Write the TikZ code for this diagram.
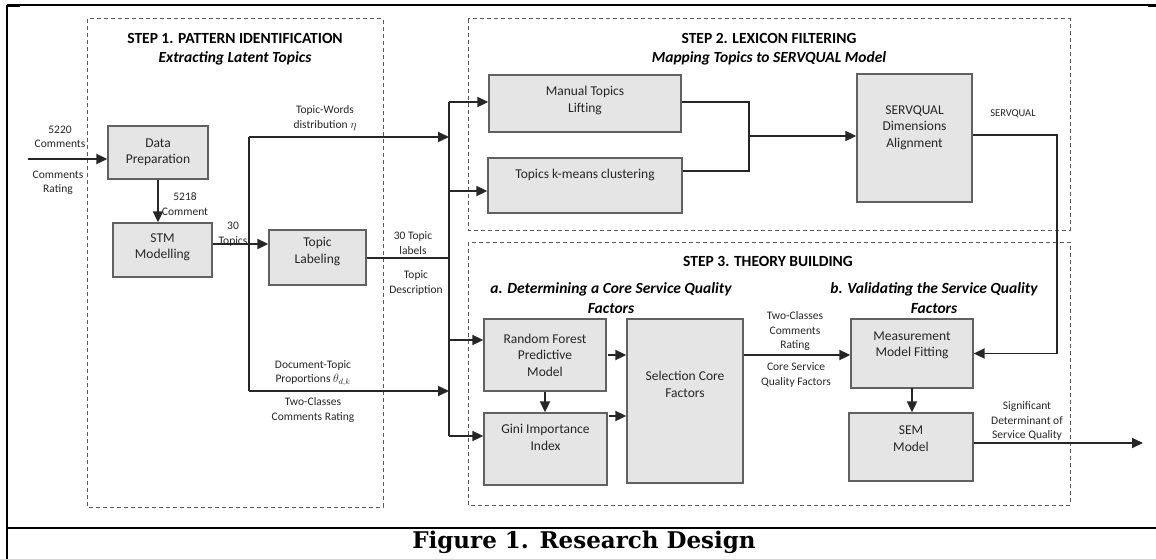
\documentclass[tikz,border=0pt]{standalone}
\usepackage{fontspec}
\usepackage{xcolor}
\setmainfont{Carlito}
\newfontfamily\capfont{DejaVu Serif}
\usetikzlibrary{arrows.meta}

\tikzset{
  procbox/.style={draw=black!62, line width=1.3pt, fill=black!10, align=center,
    text=black!85, font=\fontsize{13.5}{16.5}\selectfont, inner sep=2pt},
  steparea/.style={draw=black!65, line width=1pt, dash pattern=on 4pt off 3pt},
  flow/.style={line width=1.8pt, draw=black!85},
  tip/.style={-{Triangle[length=11pt,width=10pt]}},
  note/.style={align=center, text=black!85, font=\fontsize{11.5}{14.5}\selectfont, inner sep=0pt},
  steptitle/.style={align=center, font=\fontsize{15.5}{19}\selectfont\bfseries, inner sep=0pt},
  subtitle/.style={align=center, font=\fontsize{15.5}{20}\selectfont\bfseries\itshape, inner sep=0pt}
}

\begin{document}
\begin{tikzpicture}[x=1pt, y=-1pt]
    \useasboundingbox (0,0) rectangle (1156,559);

    % Frame of the figure cell
    \draw[line width=2pt] (7,5) -- (7,559);
    \draw[line width=1.2pt] (7,5) -- (1156,5);
    \draw[line width=1.2pt] (7,528) -- (1156,528);
    \draw[line width=2.5pt] (7,5.5) -- (20,5.5);
    \draw[line width=2.5pt] (1148,6) -- (1156,6);
    \draw[line width=2.5pt] (7,528) -- (20,528);
    \draw[line width=2.5pt] (1148,528) -- (1156,528);

    % Dashed step areas
    \draw[steparea] (87,19) rectangle (383,507);
    \draw[steparea] (468,19) rectangle (1070,230);
    \draw[steparea] (468,242) rectangle (1070,505);

    % Titles
    \node[steptitle] (t1) at (235,38) {STEP 1. PATTERN IDENTIFICATION};
    \node[subtitle] (s1) at (235,58) {Extracting Latent Topics};
    \node[steptitle] (t2) at (769,38) {STEP 2. LEXICON FILTERING};
    \node[subtitle] (s2) at (769,58) {Mapping Topics to SERVQUAL Model};
    \node[steptitle] (t3) at (768,261) {STEP 3. THEORY BUILDING};
    \node[subtitle] (s3a) at (611,298) {a. Determining a Core Service Quality\\Factors};
    \node[subtitle] (s3b) at (934,298) {b. Validating the Service Quality\\Factors};

    % Step 1 boxes
    \node[procbox, minimum width=100pt, minimum height=53pt] (prep) at (158,152.5) {Data\\Preparation};
    \node[procbox, minimum width=99pt, minimum height=54pt, text depth=8pt] (stm) at (162.5,250) {STM\\Modelling};
    \node[procbox, minimum width=97pt, minimum height=55pt, text depth=14pt] (tlab) at (317.5,257.5) {Topic\\Labeling};

    % Step 2 boxes
    \node[procbox, minimum width=192pt, minimum height=57pt, text depth=8pt] (manual) at (585,103.5) {Manual Topics\\Lifting};
    \node[procbox, minimum width=194pt, minimum height=55pt, text depth=23pt] (kmeans) at (585,185.5) {Topics k-means clustering};
    \node[procbox, minimum width=115pt, minimum height=128pt, text depth=23pt] (servq) at (914.5,138) {SERVQUAL\\Dimensions\\Alignment};

    % Step 3 boxes
    \node[procbox, minimum width=122pt, minimum height=72pt] (rf) at (545,355) {Random Forest\\Predictive\\Model};
    \node[procbox, minimum width=123pt, minimum height=72pt, text depth=23pt] (gini) at (545.5,449) {Gini Importance\\Index};
    \node[procbox, minimum width=116pt, minimum height=164pt, text depth=33pt] (sel) at (685,401) {Selection Core\\Factors};
    \node[procbox, minimum width=122pt, minimum height=69pt, text depth=19pt] (meas) at (912,353.5) {Measurement\\Model Fitting};
    \node[procbox, minimum width=124pt, minimum height=68pt, text depth=17pt] (sem) at (911,447) {SEM\\Model};

    % Junction points
    \coordinate (src) at (28,159);
    \coordinate (bustop) at (249,137);
    \coordinate (busbot) at (249,391);
    \coordinate (hubtop) at (449,102);
    \coordinate (hubbot) at (449,436);
    \coordinate (merge) at (749,136);
    \coordinate (sqturn) at (1057,135);
    \coordinate (outend) at (1143,443);

    % Step 1 flows
    \draw[flow, tip] (src) -- (src -| prep.west);
    \draw[flow, tip] (prep.south) -- (prep.south |- stm.north);
    \draw[flow, tip] (stm.east |- 0,244) -- (tlab.west |- 0,244);
    \draw[flow] (bustop) -- (busbot);
    \draw[flow, tip] (bustop) -- (hubtop |- bustop);
    \draw[flow, tip] (busbot) -- (hubtop |- busbot);
    \draw[flow] (tlab.east |- 0,258) -- (hubtop |- 0,258);

    % Hub to steps 2 and 3
    \draw[flow] (hubtop) -- (hubbot);
    \draw[flow, tip] (hubtop) -- (hubtop -| manual.west);
    \draw[flow, tip] (hubtop |- 0,191) -- (kmeans.west |- 0,191);
    \draw[flow, tip] (hubtop |- 0,340) -- (rf.west |- 0,340);
    \draw[flow, tip] (hubbot) -- (hubbot -| gini.west);

    % Step 2 flows
    \draw[flow] (manual.east |- 0,102) -| (merge |- 0,171) -- (kmeans.east |- 0,171);
    \draw[flow, tip] (merge) -- (merge -| servq.west);
    \draw[flow, tip] (servq.east |- sqturn) -- (sqturn) |- (meas.east);

    % Step 3 flows
    \draw[flow, tip] (rf.south) -- (rf.south |- gini.north);
    \draw[flow, tip] (608,355) -- (sel.west |- 0,355);
    \draw[flow, tip] (609,416) -- (sel.west |- 0,416);
    \draw[flow, tip] (sel.east |- 0,355) -- (meas.west |- 0,355);
    \draw[flow, tip] (meas.south |- 0,388) -- (meas.south |- sem.north);
    \draw[flow, tip] (sem.east |- outend) -- (outend);

    % Flow labels
    \node[note] (lin1) at (60,137) {5220\\Comments};
    \node[note] (lin2) at (58,183) {Comments\\Rating};
    \node[note] (lprep) at (185,204) {5218\\Comment};
    \node[note] (lstm) at (233,234) {30\\Topics};
    \node[note] (lwords) at (325,118) {Topic-Words\\distribution $\eta$};
    \node[note] (llab1) at (413,243) {30 Topic\\labels};
    \node[note] (llab2) at (416,283) {Topic\\Description};
    \node[note] (ldoc) at (313,373) {Document-Topic\\Proportions $\theta_{d,k}$};
    \node[note] (lrate) at (313,410) {Two-Classes\\Comments Rating};
    \node[note, font=\fontsize{10.5}{13}\selectfont] (lsq) at (1013,114) {SERVQUAL};
    \node[note] (lsel1) at (795,331) {Two-Classes\\Comments\\Rating};
    \node[note] (lsel2) at (796,375) {Core Service\\Quality Factors};
    \node[note] (lout) at (1027,421) {Significant\\Determinant of\\Service Quality};

    % Caption
    \node[font=\capfont\bfseries\fontsize{23}{26}\selectfont, inner sep=0pt] (caption) at (584,542) {Figure 1. Research Design};
\end{tikzpicture}
\end{document}
